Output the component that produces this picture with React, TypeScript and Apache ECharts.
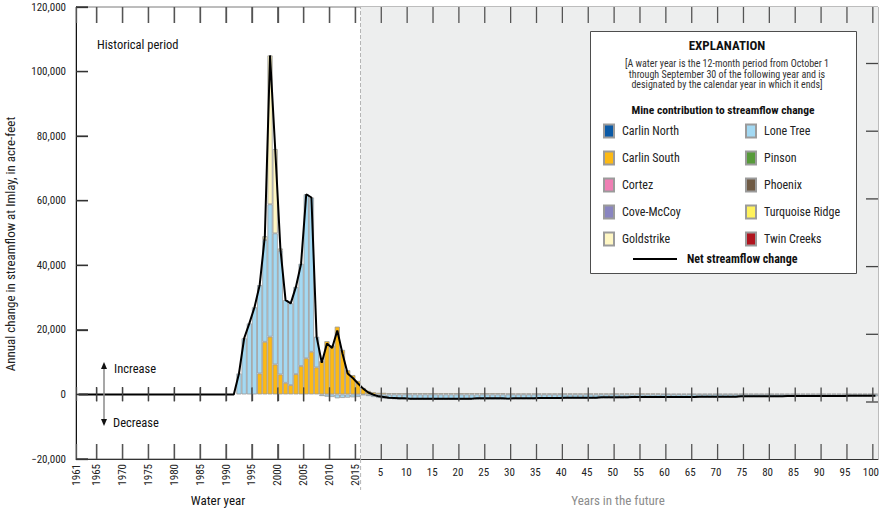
import React, { useEffect, useRef } from "react";
import * as echarts from "echarts";

const F = "'Liberation Sans Narrow', 'Roboto Condensed', 'DejaVu Sans Condensed', 'Arial Narrow', sans-serif";

// Tick labels / categories
const histYears: string[] = Array.from({ length: 55 }, (_, i) => String(1961 + i)); // 1961..2015
const futureYears: string[] = Array.from({ length: 100 }, (_, i) => String(i + 1)); // 1..100
const barCategories = [...histYears, ...futureYears];
const tickCategories = [...barCategories, "101"];
const yTicks = { min: -20000, max: 120000, step: 20000 };
const yTickValues = [-20000, 0, 20000, 40000, 60000, 80000, 100000, 120000];
const rightTickValues = [0, 1, 2, 3, 4, 5];

// Historical water years 1961..2015 (acre-feet)
const loneTreeHist: (number | null)[] = [
  null, null, null, null, null, null, null, null, null, null,
  null, null, null, null, null, null, null, null, null, null,
  null, null, null, null, null, null, null, null, null, null,
  null,
  6500, 17400, 22000, 27000, 27400, 31500, 41000, 40600, 38300, 25600,
  25300, 27000, 31700, 50800, 47800, 9500, -500, -700, -800, -1200,
  -1100, -1000, -900, -800,
];
const carlinSouthHist: (number | null)[] = [
  null, null, null, null, null, null, null, null, null, null,
  null, null, null, null, null, null, null, null, null, null,
  null, null, null, null, null, null, null, null, null, null,
  null, null, null, null, null,
  6500, 16300, 17900, 9300, 6200, 3600, 2900, 6300, 8800, 11200,
  13200, 8400, 10300, 16500, 15200, 21000, 13800, 7500, 6000, 4200,
];
const goldstrikeHist: (number | null)[] = [
  null, null, null, null, null, null, null, null, null, null,
  null, null, null, null, null, null, null, null, null, null,
  null, null, null, null, null, null, null, null, null, null,
  null, null, null, null, null, null,
  1200, 46100, 26100, 700,
  null, null, null, null, null, null, null, null, null, null,
  null, null, null, null, null,
];
const netHist: number[] = [
  0, 0, 0, 0, 0, 0, 0, 0, 0, 0,
  0, 0, 0, 0, 0, 0, 0, 0, 0, 0,
  0, 0, 0, 0, 0, 0, 0, 0, 0, 0,
  0,
  6500, 17400, 22000, 27000, 33900, 49000, 105000, 76000, 45200, 29200,
  28200, 33300, 40500, 62000, 61000, 17900, 9800, 15800, 14400, 19800,
  12700, 6500, 5100, 3400,
];

// Years in the future 1..100 (acre-feet)
const loneTreeFuture: number[] = [
  -200, -500, -800, -1100, -1300, -1400, -1500, -1600, -1600, -1700,
  -1700, -1700, -1700, -1700, -1700, -1700, -1700, -1700, -1700, -1700,
  -1700, -1700, -1600, -1600, -1600, -1600, -1600, -1600, -1600, -1500,
  -1500, -1500, -1500, -1500, -1400, -1400, -1400, -1400, -1400, -1300,
  -1300, -1300, -1300, -1300, -1300, -1300, -1200, -1200, -1200, -1200,
  -1200, -1200, -1100, -1100, -1100, -1100, -1100, -1100, -1000, -1000,
  -1000, -1000, -1000, -1000, -1000, -900, -900, -900, -900, -900,
  -900, -900, -900, -800, -800, -800, -800, -800, -800, -800,
  -800, -800, -700, -700, -700, -700, -700, -700, -700, -700,
  -700, -700, -700, -700, -600, -600, -600, -600, -600, -600,
];
const carlinSouthFuture: number[] = [
  2000, 1100, 700, 500, 500, 400, 400, 400, 400, 400,
  400, 400, 400, 400, 400, 400, 400, 400, 400, 400,
  400, 400, 400, 400, 400, 400, 400, 400, 300, 300,
  300, 300, 300, 300, 300, 300, 300, 300, 300, 300,
  300, 300, 300, 300, 300, 300, 300, 300, 300, 300,
  300, 300, 300, 300, 300, 300, 300, 300, 200, 200,
  200, 200, 200, 200, 200, 200, 200, 200, 200, 200,
  200, 200, 200, 200, 200, 200, 200, 200, 200, 200,
  200, 200, 200, 200, 200, 200, 200, 200, 200, 200,
  200, 200, 200, 200, 200, 200, 200, 200, 200, 200,
];
const netFuture: number[] = [
  1800, 600, -100, -600, -800, -1000, -1100, -1200, -1200, -1300,
  -1300, -1300, -1300, -1300, -1300, -1300, -1300, -1300, -1300, -1300,
  -1300, -1300, -1200, -1200, -1200, -1200, -1200, -1200, -1300, -1200,
  -1200, -1200, -1200, -1200, -1100, -1100, -1100, -1100, -1100, -1000,
  -1000, -1000, -1000, -1000, -1000, -1000, -900, -900, -900, -900,
  -900, -900, -800, -800, -800, -800, -800, -800, -800, -800,
  -800, -800, -800, -800, -800, -700, -700, -700, -700, -700,
  -700, -700, -700, -600, -600, -600, -600, -600, -600, -600,
  -600, -600, -500, -500, -500, -500, -500, -500, -500, -500,
  -500, -500, -500, -500, -400, -400, -400, -400, -400, -400,
];

const loneTree = [...loneTreeHist, ...loneTreeFuture];
const carlinSouth = [...carlinSouthHist, ...carlinSouthFuture];
const goldstrike = [...goldstrikeHist];
const netChange = [...netHist, ...netFuture];

const mines: { name: string; color: string; data: (number | null)[] }[] = [
  { name: "Carlin South", color: "#fdb913", data: carlinSouth },
  { name: "Lone Tree", color: "#a3d9f3", data: loneTree },
  { name: "Goldstrike", color: "#fff7c4", data: goldstrike },
  { name: "Carlin North", color: "#0b5aa6", data: [] },
  { name: "Cortez", color: "#ef7fb4", data: [] },
  { name: "Cove-McCoy", color: "#8985c0", data: [] },
  { name: "Pinson", color: "#579a3a", data: [] },
  { name: "Phoenix", color: "#6f5a44", data: [] },
  { name: "Turquoise Ridge", color: "#fff25c", data: [] },
  { name: "Twin Creeks", color: "#b0141e", data: [] },
];
const legendLeft = ["Carlin North", "Carlin South", "Cortez", "Cove-McCoy", "Goldstrike"];
const legendRight = ["Lone Tree", "Pinson", "Phoenix", "Turquoise Ridge", "Twin Creeks"];

const showTick = (i: number) => i === 0 || i % 5 === 4;
const xTickIdx = tickCategories.map((_, i) => i).filter((i) => showTick(i) && i > 0);
const fmt = (v: number) => {
  const s = Math.abs(v).toLocaleString("en-US");
  return v < 0 ? "\u2212" + s : s;
};

const G = { left: 76, right: 4, top: 7, bottom: 50 };
const TW = 1.3; // tick stroke width

export default function App() {
  const ref = useRef<HTMLDivElement>(null);
  useEffect(() => {
    if (!ref.current) return;
    const chart = echarts.init(ref.current, null, { renderer: "svg" });
    const hidden = { show: false };
    const catBase = {
      type: "category" as const,
      data: tickCategories,
      boundaryGap: false,
    };
    const seg = (x1: number, y1: number, x2: number, y2: number, color: string) => ({
      type: "line", z: 6,
      shape: { x1, y1, x2, y2 },
      style: { stroke: color, lineWidth: TW },
    });
    const txt = (x: number, y: number, text: string, font: string, fill: string, align: string, extra: any = {}) => ({
      type: "text", z: 6, x, y, ...extra,
      style: { text, font: `${font} ${F}`, fill, textAlign: align, textVerticalAlign: "middle" },
    });
    const staticGraphic: any[] = [
      {
        type: "rect", z: 5, shape: { x: 590.5, y: 31.5, width: 266, height: 242 },
        style: { fill: "#fff", stroke: "#4d4d4d", lineWidth: 1 },
      },
      txt(727, 45, "EXPLANATION", "bold 13px", "#111", "center"),
      txt(727, 63, "[A water year is the 12-month period from October 1", "10px", "#333", "center"),
      txt(727, 74, "through September 30 of the following year and is", "10px", "#333", "center"),
      txt(727, 84.5, "designated by the calendar year in which it ends]", "10px", "#333", "center"),
      txt(723, 110, "Mine contribution to streamflow change", "bold 11.5px", "#111", "center"),
      txt(97, 44, "Historical period", "12.5px", "#111", "left"),
      { type: "line", z: 6, shape: { x1: 104, y1: 367, x2: 104, y2: 421 }, style: { stroke: "#8a8a8a", lineWidth: 1.5 } },
      { type: "polygon", z: 6, shape: { points: [[104, 362], [101, 369], [107, 369]] }, style: { fill: "#111" } },
      { type: "polygon", z: 6, shape: { points: [[104, 426], [101, 419], [107, 419]] }, style: { fill: "#111" } },
      txt(114, 368, "Increase", "12.5px", "#111", "left"),
      txt(113, 422, "Decrease", "12.5px", "#111", "left"),
      { type: "line", z: 6, shape: { x1: 360.6, y1: 459, x2: 360.6, y2: 490 }, style: { stroke: "#b5b5b5", lineWidth: 1, lineDash: [4, 3] } },
      txt(218, 500, "Water year", "13px", "#111", "center"),
      txt(618, 500, "Years in the future", "13px", "#8c8c8c", "center"),
      txt(10, 244, "Annual change in streamflow at Imlay, in acre-feet", "13px", "#222", "center", { rotation: Math.PI / 2 }),
    ];
    const option: any = {
      animation: false,
      textStyle: { fontFamily: F },
      grid: [
        { ...G, show: true, borderColor: "#7a7a7a", borderWidth: 1, backgroundColor: "transparent" },
        { ...G },
        { ...G },
        { left: 76, right: 4, top: 63.5, height: 338.5 },
        { ...G },
        { left: 76, right: 4, top: 387, height: 14 },
      ],
      xAxis: [
        { type: "category", data: barCategories, boundaryGap: true, gridIndex: 0, show: false },
        {
          ...catBase, gridIndex: 1, position: "bottom",
          axisLine: { show: true, onZero: false, lineStyle: { color: "#333", width: 1 } },
          axisTick: { show: true, inside: true, length: 15, interval: showTick, lineStyle: { color: "#555", width: TW } },
          axisLabel: {
            show: true, interval: showTick, rotate: 90, margin: 5, fontSize: 11, color: "#222", fontFamily: F,
            formatter: (v: string) => (Number(v) > 1900 ? v : ""),
          },
          splitLine: { show: false },
        },
        {
          ...catBase, gridIndex: 2, position: "bottom",
          axisLine: { show: false, onZero: false },
          axisTick: { show: false },
          axisLabel: {
            show: true, interval: showTick, margin: 8, fontSize: 11, color: "#222", fontFamily: F,
            formatter: (v: string) => (Number(v) <= 100 ? v : ""),
          },
          splitLine: { show: false },
        },
        { ...catBase, gridIndex: 3, show: false },
        {
          ...catBase, gridIndex: 4, position: "top",
          axisLine: { show: false, onZero: false },
          axisTick: { show: true, inside: true, length: 16, interval: showTick, lineStyle: { color: "#555", width: TW } },
          axisLabel: { show: false }, splitLine: { show: false },
        },
        {
          ...catBase, gridIndex: 5, position: "bottom",
          axisLine: { show: false, onZero: false },
          axisTick: { show: true, inside: true, length: 14, interval: showTick, lineStyle: { color: "#444", width: TW } },
          axisLabel: { show: false }, splitLine: { show: false },
        },
      ],
      yAxis: [
        {
          type: "value", gridIndex: 0, min: yTicks.min, max: yTicks.max, interval: yTicks.step,
          axisLine: { show: true, lineStyle: { color: "#111", width: 1 } },
          axisTick: { show: true, inside: true, length: 12, lineStyle: { color: "#333", width: TW } },
          axisLabel: { show: true, margin: 10, fontSize: 11, color: "#222", fontFamily: F, formatter: fmt },
          splitLine: { show: false },
        },
        {
          type: "value", gridIndex: 1, min: yTicks.min, max: yTicks.max, interval: yTicks.step,
          show: false, splitLine: { show: false },
        },
        { type: "value", gridIndex: 2, ...hidden },
        {
          type: "value", gridIndex: 3, min: 0, max: 5, interval: 1, position: "right",
          axisLine: { show: false, onZero: false },
          axisTick: { show: true, inside: true, length: 12, lineStyle: { color: "#444", width: TW } },
          axisLabel: { show: false }, splitLine: { show: false },
        },
        { type: "value", gridIndex: 4, ...hidden },
        { type: "value", gridIndex: 5, ...hidden },
      ],
      legend: [
        {
          data: legendLeft, orient: "vertical", left: 603, top: 123.5, padding: 0,
          itemWidth: 10, itemHeight: 13, itemGap: 12, icon: "rect", selectedMode: false, z: 10,
          textStyle: { fontSize: 12, color: "#222", fontFamily: F, padding: [0, 0, 0, 3] },
        },
        {
          data: legendRight, orient: "vertical", left: 745, top: 123.5, padding: 0,
          itemWidth: 10, itemHeight: 13, itemGap: 12, icon: "rect", selectedMode: false, z: 10,
          textStyle: { fontSize: 12, color: "#222", fontFamily: F, padding: [0, 0, 0, 3] },
        },
        {
          data: ["Net streamflow change"], left: 633, top: 253, padding: 0,
          itemWidth: 44, itemHeight: 2, icon: "rect", selectedMode: false, z: 10,
          textStyle: { fontSize: 12, fontWeight: "bold", color: "#111", fontFamily: F, padding: [0, 0, 0, 5] },
        },
      ],
      series: [
        {
          type: "line", name: "_frame", xAxisIndex: 1, yAxisIndex: 1, data: [], z: 1, silent: true,
          markArea: {
            silent: true, itemStyle: { color: "#edeeee" },
            data: [[{ xAxis: "1" }, { xAxis: "101" }]],
          },
          markLine: {
            silent: true, symbol: "none", label: { show: false },
            lineStyle: { color: "#b5b5b5", type: "dashed", width: 1 },
            data: [{ xAxis: "1" }],
          },
        },
        ...mines.map((m) => ({
          type: "bar", name: m.name, stack: "mines", xAxisIndex: 0, yAxisIndex: 0,
          data: m.data, barCategoryGap: "0%", z: 2,
          itemStyle: { color: m.color, borderColor: "#9b9b9b", borderWidth: 0.8 },
        })),
        {
          type: "line", name: "Net streamflow change", xAxisIndex: 0, yAxisIndex: 0,
          data: netChange, symbol: "none", z: 4,
          lineStyle: { color: "#000", width: 2 }, itemStyle: { color: "#000" },
        },
      ],
      graphic: staticGraphic,
    };
    chart.setOption(option);

    // Backup tick marks placed through the axes' own scales
    try {
      const px = (c: string) => Number(chart.convertToPixel({ xAxisIndex: 1 }, c));
      const py = (v: number) => Number(chart.convertToPixel({ yAxisIndex: 1 }, v));
      const pr = (v: number) => Number(chart.convertToPixel({ yAxisIndex: 3 }, v));
      const yTop = py(yTicks.max);
      const yBot = py(yTicks.min);
      const y0 = py(0);
      const xL = px(tickCategories[0]);
      const xR = px(tickCategories[tickCategories.length - 1]);
      const ticks: any[] = [];
      xTickIdx.forEach((i) => {
        const x = px(tickCategories[i]);
        ticks.push(seg(x, yTop, x, yTop + 16, "#555"));
        ticks.push(seg(x, yBot, x, yBot - 15, "#555"));
        ticks.push(seg(x, y0 - 7, x, y0 + 7, "#444"));
      });
      yTickValues.forEach((v) => {
        const y = py(v);
        ticks.push(seg(xL, y, xL + 12, y, "#333"));
      });
      rightTickValues.forEach((v) => {
        const y = pr(v);
        ticks.push(seg(xR - 12, y, xR, y, "#444"));
      });
      const ok = ticks.filter((t) => [t.shape.x1, t.shape.y1, t.shape.x2, t.shape.y2].every((n) => Number.isFinite(n)));
      chart.setOption({ graphic: { elements: [...staticGraphic, ...ok] } });
    } catch (e) {
      // keep the axis-drawn ticks only
    }
    return () => chart.dispose();
  }, []);
  return <div ref={ref} style={{ width: 882, height: 509, position: "absolute", left: 0, top: 0, background: "#fff" }} />;
}
